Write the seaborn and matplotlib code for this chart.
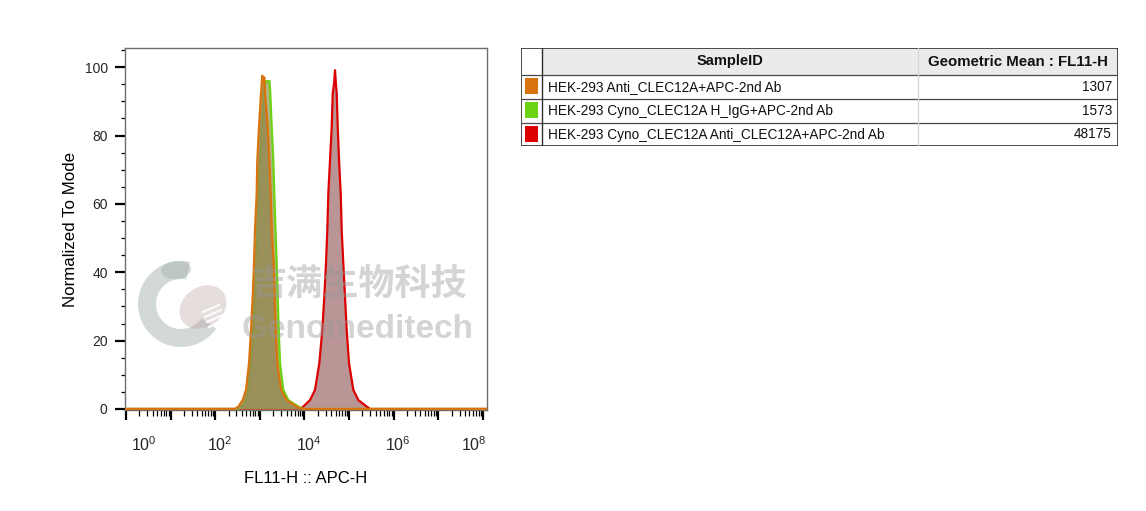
import numpy as np
import pandas as pd
import matplotlib
matplotlib.use("Agg")
import matplotlib.pyplot as plt
import matplotlib.transforms as mtransforms
from matplotlib.patches import Rectangle, Wedge, Ellipse, Circle
from matplotlib.ticker import LogLocator, NullFormatter, MultipleLocator
import seaborn as sns

# ---------------- data ----------------
sample_ids = [
    "HEK-293 Anti_CLEC12A+APC-2nd Ab",
    "HEK-293 Cyno_CLEC12A H_IgG+APC-2nd Ab",
    "HEK-293 Cyno_CLEC12A Anti_CLEC12A+APC-2nd Ab",
]
geo_means = ["1307", "1573", "48175"]
line_colors = ["#d9730d", "#6ed214", "#dc0000"]
fill_colors = ["#978a52", "#a3aa6c", "#b99596"]

# FL11-H intensity (linear units) and % of mode
orange_fl = [0.95, 280, 330, 414, 491, 573, 635, 693, 741, 780, 851, 879, 959, 1064,
             1138, 1190, 1262, 1309, 1503, 1633, 1754, 1878, 2051, 2158, 2275, 2466,
             2985, 4009, 6714, 9000, 1.24e8]
orange_pct = [0, 0, 0.7, 2.6, 5.6, 13.4, 23.1, 32.8, 42.6, 52.3, 63, 72.8, 82.5, 92.3,
              97.5, 95.5, 97, 92.3, 82.5, 72.8, 63, 50.4, 42.6, 32.8, 23.1, 13.4,
              5.6, 2.6, 0.7, 0, 0]

green_fl = [0.95, 330, 393, 491, 552, 635, 715, 780, 822, 879, 959, 1010, 1104, 1242,
            1342, 1649, 1719, 1849, 2009, 2113, 2275, 2393, 2518, 2654, 2838, 3365,
            4355, 7300, 9500, 1.24e8]
green_pct = [0, 0, 0.7, 2.6, 5.6, 13.4, 23.1, 32.8, 42.6, 50.4, 63, 72.8, 82.5, 92.3,
             95.9, 95.9, 92.3, 82.5, 72.8, 63, 50.4, 42.6, 32.8, 23.1, 13.4, 5.6,
             2.6, 0.7, 0, 0]

red_fl = [0.95, 8000, 9441, 13360, 17290, 21600, 25190, 27930, 30490, 32600, 34360,
          37500, 40930, 43150, 46500, 48530, 50300, 52970, 55830, 59700, 65160, 68550,
          74470, 81280, 88720, 100000, 124800, 161800, 249400, 300000, 1.24e8]
red_pct = [0, 0, 0.7, 2.6, 5.6, 13.4, 23.1, 32.8, 42.6, 52.3, 63,
           72.8, 82.5, 92.3, 95.5, 99.1, 96, 92.3, 82.5, 72.8, 63, 52.3,
           42.6, 32.8, 23.1, 13.4, 5.6, 2.6, 0.7, 0, 0]

x_major = [1e0, 1e1, 1e2, 1e3, 1e4, 1e5, 1e6, 1e7, 1e8]
x_labels = [r"$\mathregular{10^{0}}$", "", r"$\mathregular{10^{2}}$", "",
            r"$\mathregular{10^{4}}$", "", r"$\mathregular{10^{6}}$", "",
            r"$\mathregular{10^{8}}$"]
y_major = [0, 20, 40, 60, 80, 100]

# ---------------- style ----------------
sns.set_theme(style="white")
plt.rcParams["font.family"] = ["Liberation Sans", "Noto Sans CJK SC", "DejaVu Sans"]
plt.rcParams["mathtext.fontset"] = "custom"
plt.rcParams["mathtext.rm"] = "Liberation Sans"
plt.rcParams["mathtext.it"] = "Liberation Sans:italic"
plt.rcParams["mathtext.bf"] = "Liberation Sans:bold"

W, H = 1146, 511
fig = plt.figure(figsize=(W / 100, H / 100), dpi=100)
fig.patch.set_facecolor("white")

ax_l, ax_r, ax_t, ax_b = 125, 487, 48, 410
ax = fig.add_axes([ax_l / W, 1 - ax_b / H, (ax_r - ax_l) / W, (ax_b - ax_t) / H])
ax.set_xscale("log")

series = [(red_fl, red_pct, 2), (green_fl, green_pct, 1), (orange_fl, orange_pct, 0)]
z = 2
for fl, pct, idx in series:
    df = pd.DataFrame({"fl": fl, "pct": pct})
    ax.fill_between(df["fl"], df["pct"], 0, color=fill_colors[idx],
                    alpha=1.0 if idx == 2 else 0.85, lw=0, zorder=z)
    sns.lineplot(data=df, x="fl", y="pct", color=line_colors[idx], lw=1.6,
                 estimator=None, sort=False, ax=ax, zorder=z + 1)
    z += 2

ax.set_xlim(0.95, 1.24e8)
ax.set_ylim(-0.3, 105.6)

ax.set_xticks(x_major)
ax.set_xticklabels(x_labels)
ax.xaxis.set_minor_locator(LogLocator(base=10, subs=np.arange(2, 10), numticks=200))
ax.xaxis.set_minor_formatter(NullFormatter())
ax.set_yticks(y_major)
ax.yaxis.set_minor_locator(MultipleLocator(5))

ax.tick_params(axis="x", which="major", direction="out", length=7.5, width=1.6,
               color="black", labelsize=11.5, pad=11, bottom=True)
ax.tick_params(axis="x", which="minor", direction="out", length=4.3, width=0.9,
               color="black", bottom=True)
ax.tick_params(axis="y", which="major", direction="out", length=7.5, width=1.6,
               color="black", labelsize=10, pad=5, left=True)
ax.tick_params(axis="y", which="minor", direction="out", length=3, width=0.9,
               color="black", left=True)

for s in ax.spines.values():
    s.set_color("#6e6e6e")
    s.set_linewidth(1.0)

ax.set_xlabel("FL11-H :: APC-H", fontsize=12, labelpad=12, color="black")
ax.set_ylabel("Normalized To Mode", fontsize=12.2, labelpad=5, color="black")

# nudge the decade labels like the original cytometry export
offsets_px = [18, 0, 5, 0, 4, 0, 4, 0, -9]
for tick, dx in zip(ax.xaxis.get_major_ticks(), offsets_px):
    lab = tick.label1
    lab.set_transform(lab.get_transform() +
                      mtransforms.ScaledTranslation(dx / 100, 0, fig.dpi_scale_trans))

# ---------------- watermark overlay ----------------
ov = fig.add_axes([0, 0, 1, 1], zorder=5)
ov.set_xlim(0, W)
ov.set_ylim(H, 0)
ov.axis("off")
ov.patch.set_alpha(0)

wm_gray = (0.6, 0.6, 0.6)
logo_gray = (0.66, 0.70, 0.70)
ov.add_patch(Wedge((181, 304), 43, 35, 282, width=18, facecolor=logo_gray,
                   alpha=0.5, lw=0))
ov.add_patch(Ellipse((176, 270), 30, 18, angle=-5, facecolor=logo_gray, alpha=0.5, lw=0))
ov.add_patch(Ellipse((203, 307), 50, 40, angle=-35, facecolor=(0.72, 0.62, 0.62),
                     alpha=0.35, lw=0))
for k in range(4):
    ov.plot([203 + 2 * k, 219 + 2 * k], [312 + 5 * k, 305 + 5 * k], color="white",
            lw=1.6, alpha=0.9)
ov.text(359, 285, "吉满生物科技", fontsize=26, fontweight="bold",
        family=["Noto Sans CJK SC"], color=wm_gray, alpha=0.42,
        ha="center", va="center")
ov.text(358, 330, "Genomeditech", fontsize=24, fontweight="bold",
        family=["Liberation Sans"], color=wm_gray, alpha=0.42,
        ha="center", va="center")

# ---------------- sample table ----------------
tx0, ty0, tw, th = 521, 48, 597, 98
tb = fig.add_axes([tx0 / W, 1 - (ty0 + th) / H, tw / W, th / H], zorder=6)
tb.set_xlim(0, tw)
tb.set_ylim(th, 0)
tb.axis("off")

row_edges = [0, 27, 51, 75, 98]
c1, c2 = 21, 397
tb.add_patch(Rectangle((c1, 0), tw - c1, 27, facecolor="#ebebeb", lw=0))
for y in row_edges[1:-1]:
    tb.plot([0, tw], [y, y], color="#4a4a4a", lw=0.9, solid_capstyle="butt")
tb.plot([c2, c2], [0, th], color="#d4d4d4", lw=0.9)
tb.plot([c1, c1], [0, th], color="#2e2e2e", lw=1.0)
tb.add_patch(Rectangle((0, 0), tw, th, facecolor="none", edgecolor="#2e2e2e", lw=1.2))

tb.text((c1 + c2) / 2, 13.5, "SampleID", fontsize=10.5, fontweight="bold",
        ha="center", va="center", color="#111111")
tb.text((c2 + tw) / 2, 13.5, "Geometric Mean : FL11-H", fontsize=10.8,
        fontweight="bold", ha="center", va="center", color="#111111")
for i, (name, gm, col) in enumerate(zip(sample_ids, geo_means, line_colors)):
    top = row_edges[i + 1]
    mid = (row_edges[i + 1] + row_edges[i + 2]) / 2
    tb.add_patch(Rectangle((3.5, top + 3.5), 13, 16, facecolor=col, lw=0))
    tb.text(27, mid, name, fontsize=9.8, ha="left", va="center", color="#111111")
    tb.text(tw - 6, mid, gm, fontsize=9.8, ha="right", va="center", color="#111111")

fig.savefig("out.png", dpi=100, facecolor="white")
